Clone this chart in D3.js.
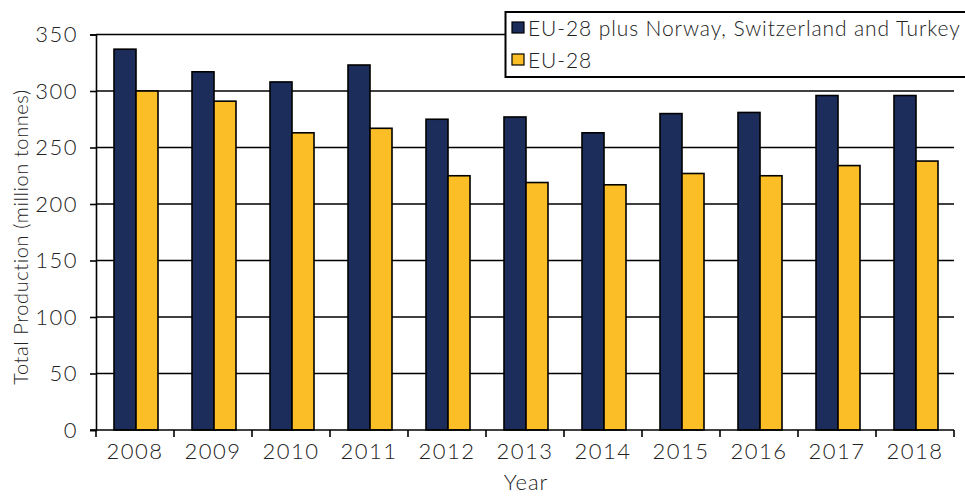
<!DOCTYPE html>
<html>
<head>
<meta charset="utf-8">
<script src="https://cdn.jsdelivr.net/npm/d3@7"></script>
<style>
  body { margin: 0; background: #fff; }
  svg text { font-family: "Lato", "DejaVu Sans", sans-serif; font-weight: 300; fill: #222; }
</style>
</head>
<body>
<svg id="stage" width="965" height="497"></svg>
<script>
// data
var years = ["2008","2009","2010","2011","2012","2013","2014","2015","2016","2017","2018"];
var seriesNames = ["EU-28 plus Norway, Switzerland and Turkey", "EU-28"];
var euPlus = [337, 317, 308, 323, 275, 277, 263, 280, 281, 296, 296];
var eu28 = [300, 291, 263, 267, 225, 219, 217, 227, 225, 234, 238];
var yTicks = [0, 50, 100, 150, 200, 250, 300, 350];
var colors = ["#1d2d5b", "#fcbe26"];

var svg = d3.select("#stage");

var plotLeft = 96, plotRight = 954, plotTop = 34.5, plotBottom = 430;

var x0 = d3.scaleBand().domain(years).range([plotLeft, plotRight]).padding(0);
var x1 = d3.scaleBand().domain([0, 1]).range([0, 44]);
var y = d3.scaleLinear().domain([0, 350]).range([plotBottom, plotTop]);

var rows = years.map(function(yr, i){
  return {year: yr, values: [euPlus[i], eu28[i]]};
});

//gridlines
svg.append("g").selectAll("line")
  .data(yTicks.filter(function(d){ return d > 0; }))
  .enter().append("line")
  .attr("x1", plotLeft).attr("x2", plotRight)
  .attr("y1", function(d){ return y(d); })
  .attr("y2", function(d){ return y(d); })
  .attr("stroke", "#000").attr("stroke-width", 1.6);

//bars
var groups = svg.append("g").selectAll("g")
  .data(rows)
  .enter().append("g")
  .attr("transform", function(d){ return "translate(" + (x0(d.year) + x0.bandwidth()/2 - 21) + ",0)"; });

groups.selectAll("rect")
  .data(function(d){ return d.values.map(function(v, j){ return {v: v, j: j}; }); })
  .enter().append("rect")
  .attr("x", function(d){ return x1(d.j); })
  .attr("width", x1.bandwidth())
  .attr("y", function(d){ return y(d.v); })
  .attr("height", function(d){ return y(0) - y(d.v); })
  .attr("fill", function(d){ return colors[d.j]; })
  .attr("stroke", "#000").attr("stroke-width", 1.6);

//y axis
var yAxis = svg.append("g")
  .attr("transform", "translate(" + plotLeft + ",0)")
  .call(d3.axisLeft(y).tickValues(yTicks).tickSize(6).tickPadding(12));
yAxis.select(".domain").attr("stroke", "#000").attr("stroke-width", 1.6);
yAxis.selectAll(".tick line").attr("stroke", "#000").attr("stroke-width", 1.6);
yAxis.selectAll("text")
  .style("font-size", "22px").style("letter-spacing", "1.5px")
  .attr("fill", "#222");

//x axis
var xAxis = svg.append("g")
  .attr("transform", "translate(0," + plotBottom + ")")
  .call(d3.axisBottom(x0).tickSize(0).tickPadding(13));
xAxis.select(".domain").attr("stroke", "#000").attr("stroke-width", 1.6)
  .attr("d", "M" + (plotLeft - 6) + ",0H" + plotRight);
xAxis.selectAll("text")
  .style("font-size", "22px").style("letter-spacing", "1.5px")
  .attr("fill", "#222");

//x tick marks on band edges
svg.append("g").selectAll("line")
  .data(years.concat(["end"]))
  .enter().append("line")
  .attr("x1", function(d){ return d === "end" ? plotRight : x0(d); })
  .attr("x2", function(d){ return d === "end" ? plotRight : x0(d); })
  .attr("y1", plotBottom).attr("y2", plotBottom + 7)
  .attr("stroke", "#000").attr("stroke-width", 1.6);

//axis titles
svg.append("text")
  .attr("x", 526).attr("y", 490)
  .attr("text-anchor", "middle")
  .style("font-size", "22px").style("letter-spacing", "1px")
  .text("Year");

svg.append("text")
  .attr("transform", "translate(28,237) rotate(-90)")
  .attr("text-anchor", "middle")
  .style("font-size", "20px").style("letter-spacing", "0.6px")
  .text("Total Production (million tonnes)");

//legend
var legend = svg.append("g");
legend.append("rect")
  .attr("x", 505.5).attr("y", 12).attr("width", 470).attr("height", 65)
  .attr("fill", "#fff").attr("stroke", "#000").attr("stroke-width", 2);

var items = legend.selectAll("g.item")
  .data(seriesNames)
  .enter().append("g").attr("class", "item")
  .attr("transform", function(d, i){ return "translate(512," + (22 + i * 32) + ")"; });

items.append("rect")
  .attr("width", 12).attr("height", 11)
  .attr("fill", function(d, i){ return colors[i]; })
  .attr("stroke", "#000").attr("stroke-width", 1.2);

items.append("text")
  .attr("x", 16).attr("y", 14)
  .style("font-size", "21px").style("letter-spacing", "0.9px")
  .text(function(d){ return d; });
</script>
</body>
</html>
